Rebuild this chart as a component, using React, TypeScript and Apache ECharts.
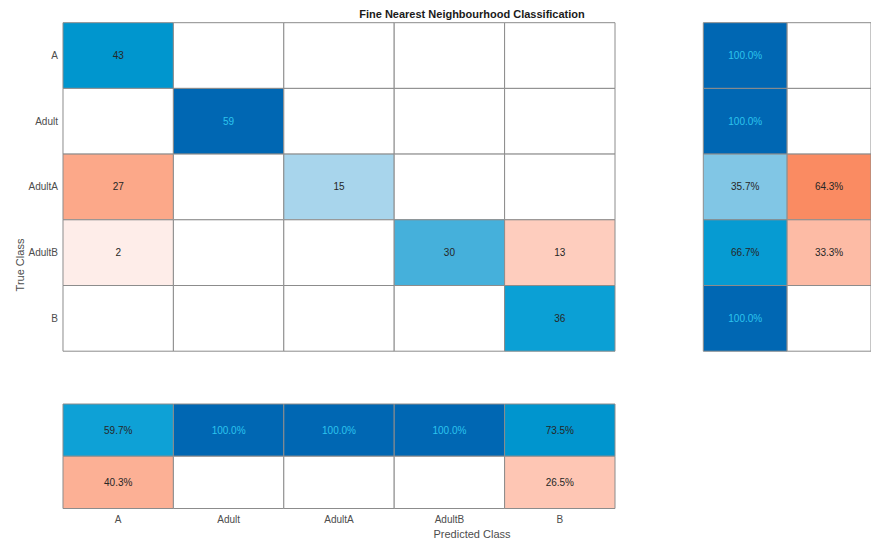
import React, { useEffect, useRef } from "react";
import * as echarts from "echarts";

// Class names, in the order used for both axes
const classes = ["A", "Adult", "AdultA", "AdultB", "B"];

// Confusion counts: one array per true class, entries by predicted class
const trueA = [43, 0, 0, 0, 0];
const trueAdult = [0, 59, 0, 0, 0];
const trueAdultA = [27, 0, 15, 0, 0];
const trueAdultB = [2, 0, 0, 30, 13];
const trueB = [0, 0, 0, 0, 36];
const confusion = [trueA, trueAdult, trueAdultA, trueAdultB, trueB];

const titleText = "Fine Nearest Neighbourhood Classification";
const xName = "Predicted Class";
const yName = "True Class";

// Colour ramps (position 0..1 -> colour) for correct and incorrect cells
const blueStops: [number, string][] = [
  [0, "#ffffff"],
  [0.25, "#aad6ec"],
  [0.5, "#4ab1db"],
  [0.6, "#0ca1d6"],
  [0.73, "#0096ce"],
  [1, "#0067b3"],
];
const redStops: [number, string][] = [
  [0, "#ffffff"],
  [0.03, "#feeeea"],
  [0.22, "#fecdbe"],
  [0.45, "#fca98b"],
  [0.65, "#fa8a60"],
  [1, "#d95319"],
];

const FONT = "'Liberation Sans', Arial, Helvetica, sans-serif";
const BORDER = "#8c8c8c";

function hexToRgb(h: string) {
  const n = parseInt(h.slice(1), 16);
  return [(n >> 16) & 255, (n >> 8) & 255, n & 255];
}

function ramp(stops: [number, string][], t: number) {
  const v = Math.max(0, Math.min(1, t));
  for (let i = 1; i < stops.length; i++) {
    const [p1, c1] = stops[i - 1];
    const [p2, c2] = stops[i];
    if (v <= p2) {
      const f = (v - p1) / (p2 - p1 || 1);
      const a = hexToRgb(c1);
      const b = hexToRgb(c2);
      const m = a.map((x, k) => Math.round(x + (b[k] - x) * f));
      return `rgb(${m[0]},${m[1]},${m[2]})`;
    }
  }
  return stops[stops.length - 1][1];
}

type Cell = { value: number[]; text: string; fill: string; ink: string; show: boolean };

function cell(x: number, y: number, v: number, t: number, correct: boolean, text: string): Cell {
  const empty = v === 0;
  return {
    value: [x, y, v],
    text,
    fill: empty ? "#ffffff" : ramp(correct ? blueStops : redStops, t),
    ink: correct && t >= 0.9 ? "#2cc4ee" : "#262626",
    show: !empty,
  };
}

// Custom series that draws each cell as a bordered rectangle with its label
function cellSeries(cells: Cell[], axisIndex: number) {
  return {
    type: "custom",
    xAxisIndex: axisIndex,
    yAxisIndex: axisIndex,
    data: cells.map((c) => c.value),
    renderItem: (params: any, api: any) => {
      const c = cells[params.dataIndex];
      const center = api.coord([api.value(0), api.value(1)]);
      const size = api.size([1, 1]);
      const children: any[] = [
        {
          type: "rect",
          shape: {
            x: center[0] - size[0] / 2,
            y: center[1] - size[1] / 2,
            width: size[0],
            height: size[1],
          },
          style: { fill: c.fill, stroke: BORDER, lineWidth: 1 },
        },
      ];
      if (c.show) {
        children.push({
          type: "text",
          x: center[0],
          y: center[1],
          style: {
            text: c.text,
            font: `10px ${FONT}`,
            fill: c.ink,
            textAlign: "center",
            textVerticalAlign: "middle",
          },
        });
      }
      return { type: "group", children };
    },
    z: 2,
  };
}

export default function App() {
  const ref = useRef<HTMLDivElement>(null);

  useEffect(() => {
    if (!ref.current) return;
    const chart = echarts.init(ref.current, null, { renderer: "svg" });

    const maxCount = Math.max(...confusion.flat());

    // Main matrix
    const mainCells: Cell[] = [];
    confusion.forEach((row, r) =>
      row.forEach((v, c) => mainCells.push(cell(c, r, v, v / maxCount, r === c, String(v))))
    );

    // Row summary: share of each true class predicted correctly / incorrectly
    const rowCells: Cell[] = [];
    confusion.forEach((row, r) => {
      const total = row.reduce((s, x) => s + x, 0);
      const good = (row[r] / total) * 100;
      const bad = 100 - good;
      rowCells.push(cell(0, r, good, good / 100, true, good.toFixed(1) + "%"));
      rowCells.push(cell(1, r, bad < 0.05 ? 0 : bad, bad / 100, false, bad.toFixed(1) + "%"));
    });

    // Column summary: share of each predicted class that is correct / incorrect
    const colCells: Cell[] = [];
    classes.forEach((_, c) => {
      const total = confusion.reduce((s, row) => s + row[c], 0);
      const good = (confusion[c][c] / total) * 100;
      const bad = 100 - good;
      colCells.push(cell(c, 0, good, good / 100, true, good.toFixed(1) + "%"));
      colCells.push(cell(c, 1, bad < 0.05 ? 0 : bad, bad / 100, false, bad.toFixed(1) + "%"));
    });

    const hidden = {
      axisLine: { show: false },
      axisTick: { show: false },
      axisLabel: { show: false },
      splitLine: { show: false },
    };

    chart.setOption({
      animation: false,
      backgroundColor: "#ffffff",
      grid: [
        { left: 63, top: 22.7, width: 552, height: 328.5 },
        { left: 703.3, top: 22.7, width: 178, height: 328.5 },
        { left: 63, top: 404, width: 552, height: 104.5 },
      ],
      xAxis: [
        { gridIndex: 0, type: "category", data: classes, ...hidden },
        { gridIndex: 1, type: "category", data: ["correct", "incorrect"], ...hidden },
        {
          gridIndex: 2,
          type: "category",
          data: classes,
          position: "bottom",
          axisLine: { show: false },
          axisTick: { show: false },
          splitLine: { show: false },
          axisLabel: { margin: 6, fontSize: 10, color: "#4d4d4d", fontFamily: FONT },
        },
      ],
      yAxis: [
        {
          gridIndex: 0,
          type: "category",
          data: classes,
          inverse: true,
          axisLine: { show: false },
          axisTick: { show: false },
          splitLine: { show: false },
          axisLabel: { margin: 5, fontSize: 10, color: "#4d4d4d", fontFamily: FONT },
        },
        { gridIndex: 1, type: "category", data: classes, inverse: true, ...hidden },
        { gridIndex: 2, type: "category", data: ["correct", "incorrect"], inverse: true, ...hidden },
      ],
      series: [cellSeries(mainCells, 0), cellSeries(rowCells, 1), cellSeries(colCells, 2)],
      graphic: [
        {
          type: "text",
          x: 472,
          y: 14,
          style: {
            text: titleText,
            font: `bold 11px ${FONT}`,
            fill: "#1a1a1a",
            textAlign: "center",
            textVerticalAlign: "middle",
          },
        },
        {
          type: "text",
          x: 472,
          y: 534,
          style: {
            text: xName,
            font: `11px ${FONT}`,
            fill: "#4d4d4d",
            textAlign: "center",
            textVerticalAlign: "middle",
          },
        },
        {
          type: "text",
          x: 20,
          y: 265,
          rotation: Math.PI / 2,
          style: {
            text: yName,
            font: `11px ${FONT}`,
            fill: "#4d4d4d",
            textAlign: "center",
            textVerticalAlign: "middle",
          },
        },
      ],
    });

    return () => chart.dispose();
  }, []);

  return (
    <div
      ref={ref}
      style={{ position: "absolute", left: 0, top: 0, width: 871, height: 543 }}
    />
  );
}
